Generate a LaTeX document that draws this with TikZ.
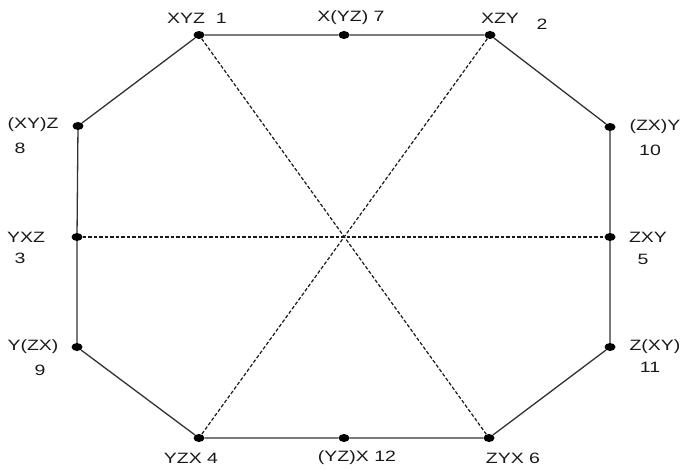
\documentclass[tikz,border=0pt]{standalone}
\usepackage{fontspec}
\setmainfont{Liberation Sans}
\usepackage{tikz}
\usetikzlibrary{shapes.geometric}
\definecolor{edgegray}{RGB}{50,50,50}

\tikzset{
  dot/.style={ellipse, fill=black, draw=none, inner sep=0pt, minimum width=11pt, minimum height=8pt},
  lbl/.style={font=\fontsize{15}{17}\selectfont, text=black!90, inner sep=0pt, xscale=1.3},
  edge/.style={draw=edgegray, line width=1.3pt},
  diag/.style={draw=black!90, line width=1.2pt, dash pattern=on 3.5pt off 2pt}
}

\begin{document}
\begin{tikzpicture}[x=1pt, y=-1pt]
  \useasboundingbox (0,0) rectangle (685,470);

  % The twelve orderings
  \foreach \n/\x/\y in {1/199/35, 7/344/35, 2/490/35, 8/78/126, 10/610/127, 3/77/237,
                        5/610/237, 9/77/347, 11/610/347, 4/199/438, 12/344/438, 6/489/438} {
    \node[dot] (p\n) at (\x,\y) {};
  }

  % Outer octagon
  \draw[edge] (p1) -- (p7) -- (p2) -- (p10) -- (p5) -- (p11) -- (p6)
              -- (p12) -- (p4) -- (p9) -- (p3) -- (p8) -- (p1);

  % Diagonals through the centre
  \draw[diag] (p1) -- (p6);
  \draw[diag] (p2) -- (p4);
  \draw[diag] (p3) -- (p5);

  % Labels, top row
  \node at (197,18) [lbl] (l1) {XYZ~~1};
  \node at (351,18) [lbl] (l7) {X(YZ) 7};
  \node at (500,18) [lbl] (l2) {XZY};
  \node at (542,24) [lbl] (n2) {2};

  % Labels, left side
  \node at (33,125) [lbl] (l8) {(XY)Z};
  \node at (20,148) [lbl] (n8) {8};
  \node at (26,237) [lbl] (l3) {YXZ};
  \node at (20,258) [lbl] (n3) {3};
  \node at (33,347) [lbl] (l9) {Y(ZX)};
  \node at (40,370) [lbl] (n9) {9};

  % Labels, right side
  \node at (655,127) [lbl] (l10) {(ZX)Y};
  \node at (650,150) [lbl] (n10) {10};
  \node at (648,237) [lbl] (l5) {ZXY};
  \node at (643,259) [lbl] (n5) {5};
  \node at (655,347) [lbl] (l11) {Z(XY)};
  \node at (650,367) [lbl] (n11) {11};

  % Labels, bottom row
  \node at (191,458) [lbl] (l4) {YZX 4};
  \node at (357,458) [lbl] (l12) {(YZ)X 12};
  \node at (513,458) [lbl] (l6) {ZYX 6};
\end{tikzpicture}
\end{document}
